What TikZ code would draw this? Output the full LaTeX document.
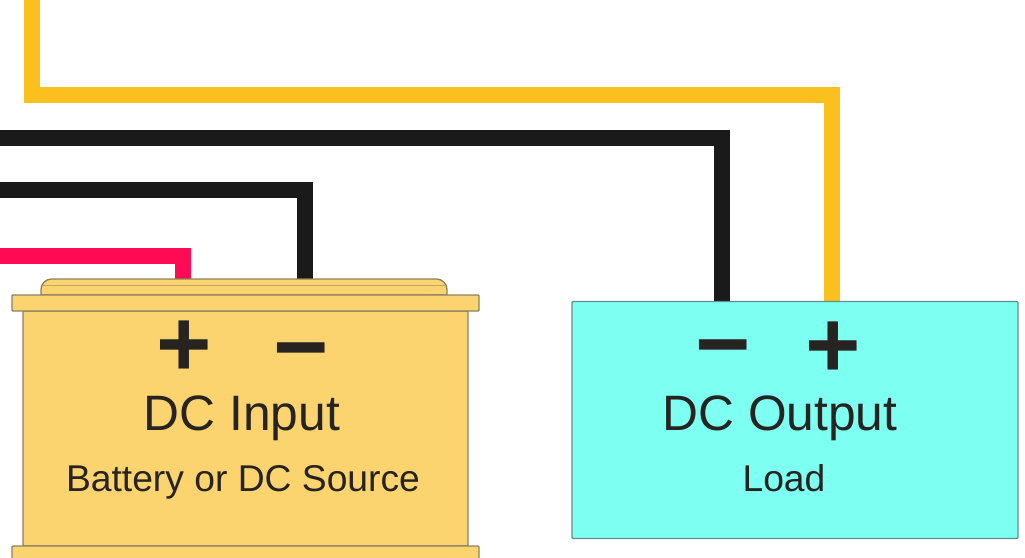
\documentclass[tikz,border=0pt]{standalone}
\usepackage{fontspec}
\setmainfont{Liberation Sans}
\definecolor{wireyellow}{HTML}{FBC01E}
\definecolor{wireblack}{HTML}{1A1A1A}
\definecolor{wirered}{HTML}{FF0A54}
\definecolor{battfill}{HTML}{FBD46F}
\definecolor{battline}{HTML}{8C8060}
\definecolor{loadfill}{HTML}{7DFFF2}
\definecolor{loadline}{HTML}{5F8F8C}
\definecolor{inktext}{HTML}{262320}
\tikzset{
  wire/.style={line width=0.32cm,line join=miter},
  battbox/.style={draw=battline,fill=battfill,line width=0.75pt,inner sep=0pt,rounded corners=0.5pt},
  loadbox/.style={draw=loadline,fill=loadfill,line width=0.75pt,inner sep=0pt,rounded corners=0.5pt},
  signtext/.style={font=\fontsize{54}{54}\selectfont\bfseries,text=inktext,inner sep=0pt},
  titletext/.style={font=\fontsize{28.3}{30}\selectfont,text=inktext,inner sep=0pt,anchor=base},
  subtext/.style={font=\fontsize{21.2}{24}\selectfont,text=inktext,inner sep=0pt,anchor=base}
}
\begin{document}
\begin{tikzpicture}[x=0.02cm,y=-0.02cm]
\useasboundingbox (0,0) rectangle (1025,558);
\clip (0,0) rectangle (1025,558);
\fill[white] (0,0) rectangle (1025,558);

\coordinate (yellowfree) at (32,0);
\coordinate (yellowbend) at (832,95);
\coordinate (blackfreea) at (0,138);
\coordinate (blackfreeb) at (0,190);
\coordinate (redfree) at (0,255.5);
\coordinate (battplus) at (183,282);
\coordinate (battminus) at (304.5,282);
\coordinate (loadminus) at (722,303);
\coordinate (loadplus) at (832,303);

% wires
\draw[wire,wireyellow] (yellowfree) |- (yellowbend) -- (loadplus);
\draw[wire,wireblack] (blackfreea) -| (loadminus);
\draw[wire,wireblack] (blackfreeb) -| (battminus);
\draw[wire,wirered] (redfree) -| (battplus);

% battery
\draw[battbox,rounded corners=6] (41,295) -- (41,279) -- (447,279) [sharp corners] -- (447,295) -- cycle;
\draw[battline!55!battfill,line width=0.5pt] (43,285) -- (445,285);
\node[battbox,minimum width=8.9cm,minimum height=4.7cm] (battbody) at (245.5,428.5) {};
\node[battbox,minimum width=9.34cm,minimum height=0.32cm] (battlid) at (245.5,303) {};
\node[battbox,minimum width=9.34cm,minimum height=1cm] (battbase) at (245.5,571) {};

% load
\node[loadbox,minimum width=8.92cm,minimum height=4.74cm] (loadbody) at (795,420) {};

\node[signtext] (battplussign) at (184,349) {+};
\node[signtext] (battminussign) at (301,361.5) {−};
\node[titletext] (battname) at (242,430) {DC Input};
\node[subtext] (battnote) at (243,491.5) {Battery or DC Source};

\node[signtext] (loadminussign) at (723,358.5) {−};
\node[signtext] (loadplussign) at (833,350) {+};
\node[titletext] (loadname) at (780,430) {DC Output};
\node[subtext] (loadnote) at (784,491.5) {Load};
\end{tikzpicture}
\end{document}
